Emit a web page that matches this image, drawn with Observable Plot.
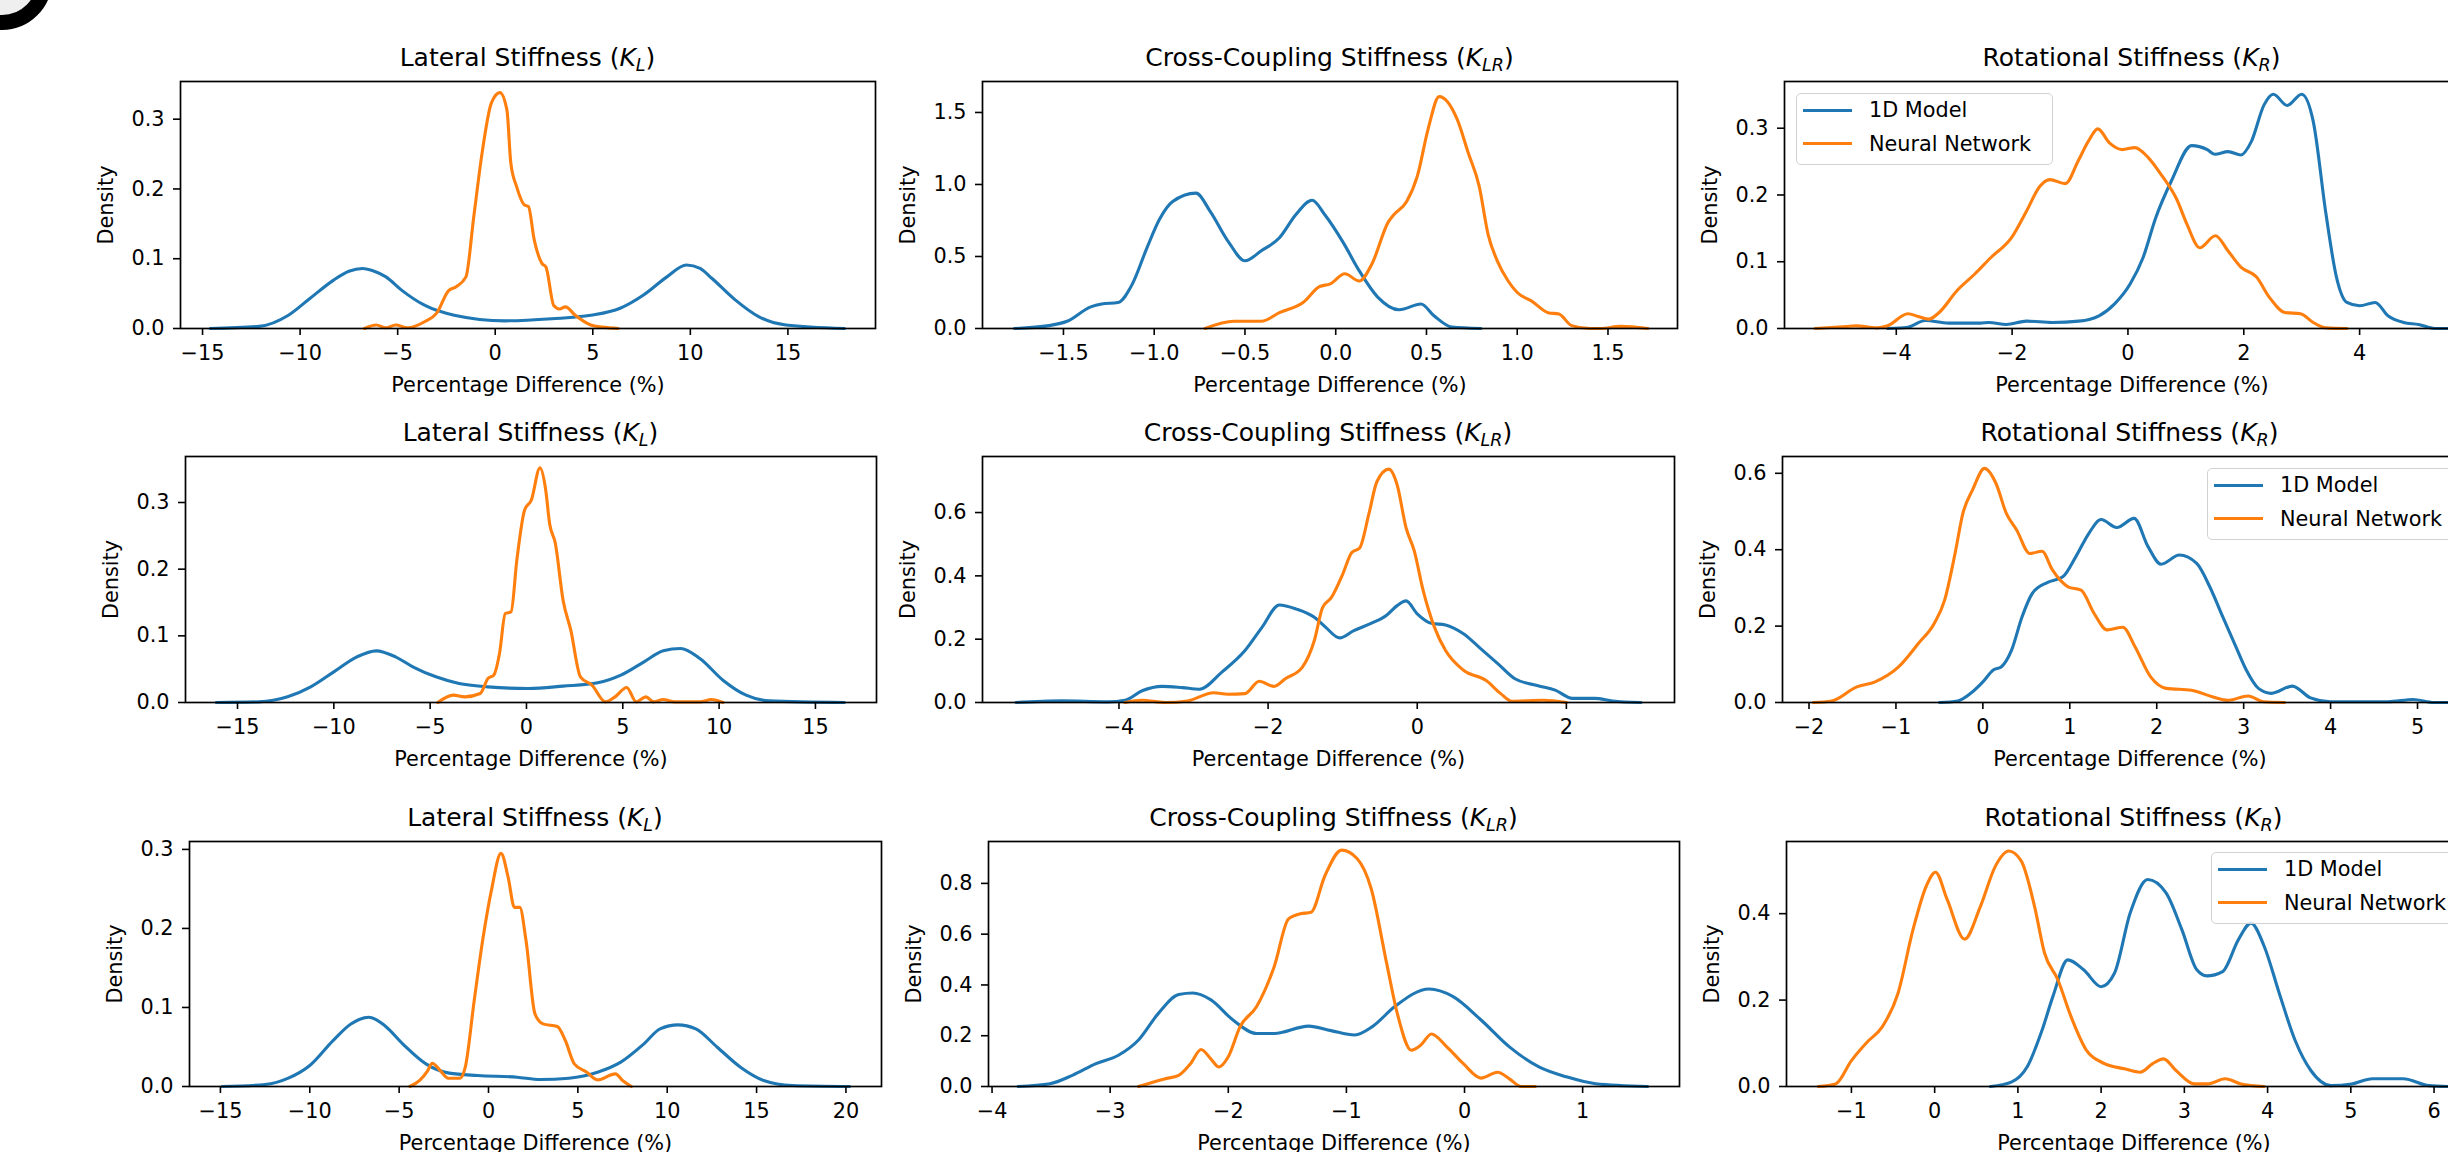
<!DOCTYPE html>
<html>
<head>
<meta charset="utf-8">
<script src="https://cdn.jsdelivr.net/npm/d3@7"></script>
<script src="https://cdn.jsdelivr.net/npm/@observablehq/plot@0.6"></script>
<style>
  html, body { margin: 0; padding: 0; background: #fff; }
  #fig { position: relative; width: 2448px; height: 1152px; overflow: hidden; background: #fff;
         font-family: "DejaVu Sans", sans-serif; color: #000; }
  .panel { position: absolute; }
  .panel svg { max-width: none !important; display: block; }
  .title { position: absolute; text-align: center; font-size: 25px; line-height: 25px; white-space: nowrap; color: #000; }
  .title sub { font-size: 70%; vertical-align: baseline; position: relative; top: 0.28em; line-height: 0; }
  .legend { position: absolute; box-sizing: border-box; background: rgba(255,255,255,0.8);
            border: 1.5px solid #d2d2d2; border-radius: 5px; font-size: 20.8px; }
  .legend .sw { position: absolute; height: 3px; }
  .legend .lt { position: absolute; line-height: 20.8px; white-space: nowrap; color: #000; }
  #corner { position: absolute; left: -48px; top: -70px; width: 100px; height: 100px; box-sizing: border-box;
            border-radius: 50%; border: 15px solid #000; background: #efefef; }
</style>
</head>
<body>
<div id="fig"><div id="corner"></div></div>
<script>
// ---------------- DATA ----------------
const seriesNames = ["1D Model", "Neural Network"];
const seriesColors = ["#1f77b4", "#ff7f0e"];
const xLabel = "Percentage Difference (%)";
const yLabel = "Density";

// Row 1
const r1LatModel = [[-14.6,0],[-12.1,0.003],[-10.6,0.019],[-9.5,0.043],[-8.3,0.069],[-7.5,0.082],[-6.8,0.086],[-6.2,0.082],[-5.6,0.074],[-4.8,0.055],[-3.6,0.033],[-2.1,0.019],[0.5,0.011],[2.9,0.014],[4.9,0.019],[6.4,0.029],[7.6,0.048],[8.8,0.074],[9.8,0.091],[10.5,0.086],[11.1,0.072],[12.3,0.041],[13.5,0.017],[14.9,0.005],[17.9,0]];
const r1LatNN = [[-6.7,0],[-6.1,0.005],[-5.6,0.001],[-5.1,0.005],[-4.5,0.001],[-3.6,0.01],[-3.0,0.022],[-2.4,0.054],[-2.0,0.06],[-1.5,0.074],[-1.1,0.16],[-0.65,0.256],[-0.2,0.323],[0.24,0.338],[0.6,0.313],[0.8,0.237],[1.1,0.203],[1.5,0.177],[1.7,0.175],[2.0,0.127],[2.4,0.093],[2.6,0.088],[3.0,0.033],[3.3,0.028],[3.6,0.031],[4.1,0.019],[4.9,0.005],[5.5,0.002],[6.3,0]];
const r1CCModel = [[-1.77,0],[-1.58,0.02],[-1.48,0.05],[-1.35,0.15],[-1.29,0.17],[-1.2,0.18],[-1.12,0.31],[-1.04,0.56],[-0.97,0.76],[-0.9,0.88],[-0.77,0.94],[-0.69,0.81],[-0.59,0.6],[-0.5,0.47],[-0.41,0.54],[-0.31,0.63],[-0.22,0.79],[-0.13,0.89],[-0.06,0.79],[0.04,0.6],[0.13,0.4],[0.23,0.22],[0.35,0.13],[0.47,0.17],[0.54,0.09],[0.64,0.01],[0.8,0]];
const r1CCNN = [[-0.72,0],[-0.56,0.05],[-0.41,0.05],[-0.31,0.11],[-0.18,0.18],[-0.09,0.29],[-0.03,0.31],[0.05,0.38],[0.13,0.33],[0.2,0.45],[0.29,0.74],[0.32,0.79],[0.39,0.88],[0.45,1.06],[0.51,1.39],[0.57,1.61],[0.67,1.45],[0.73,1.22],[0.79,0.99],[0.84,0.65],[0.89,0.47],[0.95,0.33],[1.0,0.25],[1.08,0.19],[1.17,0.11],[1.23,0.10],[1.3,0.02],[1.4,0],[1.46,0],[1.57,0.015],[1.72,0]];
const r1RotModel = [[-4.15,0],[-3.8,0.002],[-3.5,0.012],[-3.1,0.008],[-2.55,0.008],[-2.4,0.009],[-2.1,0.006],[-1.75,0.011],[-1.3,0.009],[-0.85,0.011],[-0.5,0.019],[-0.23,0.037],[0.04,0.067],[0.26,0.106],[0.48,0.166],[0.75,0.221],[1.1,0.274],[1.37,0.268],[1.5,0.261],[1.73,0.265],[1.95,0.26],[2.13,0.28],[2.35,0.335],[2.51,0.351],[2.75,0.334],[3.0,0.351],[3.2,0.31],[3.42,0.171],[3.6,0.077],[3.78,0.039],[4.0,0.034],[4.27,0.039],[4.49,0.019],[4.76,0.009],[5.02,0.006],[5.3,0],[5.9,0]];
const r1RotNN = [[-5.4,0],[-4.86,0.003],[-4.7,0.004],[-4.33,0.001],[-4.15,0.004],[-3.8,0.022],[-3.62,0.018],[-3.44,0.014],[-3.26,0.024],[-2.95,0.057],[-2.64,0.082],[-2.37,0.106],[-2.01,0.136],[-1.75,0.176],[-1.52,0.213],[-1.35,0.223],[-1.08,0.217],[-0.86,0.251],[-0.68,0.281],[-0.52,0.299],[-0.32,0.278],[-0.1,0.268],[0.12,0.271],[0.35,0.256],[0.57,0.231],[0.84,0.194],[1.02,0.156],[1.24,0.121],[1.51,0.139],[1.73,0.116],[1.95,0.092],[2.22,0.077],[2.44,0.047],[2.71,0.024],[2.98,0.022],[3.2,0.009],[3.42,0.001],[3.78,0]];

// Row 2
const r2LatModel = [[-16.1,0],[-13.9,0.001],[-12.4,0.0085],[-11.2,0.0235],[-10.0,0.046],[-8.8,0.0685],[-7.8,0.0775],[-6.8,0.0685],[-5.9,0.0535],[-4.7,0.0385],[-3.5,0.0285],[-2.0,0.0235],[0.1,0.021],[1.9,0.0245],[3.7,0.0295],[4.9,0.041],[6.1,0.061],[7.1,0.0775],[8.0,0.081],[9.0,0.066],[10.2,0.0335],[11.4,0.011],[12.6,0.0025],[16.5,0]];
const r2LatNN = [[-4.6,0],[-3.8,0.011],[-3.2,0.0085],[-2.4,0.0135],[-2.0,0.036],[-1.7,0.041],[-1.4,0.0735],[-1.1,0.1335],[-0.8,0.136],[-0.5,0.2135],[-0.1,0.2885],[0.25,0.3035],[0.7,0.352],[1.0,0.3185],[1.2,0.2685],[1.5,0.2385],[1.9,0.1535],[2.3,0.1085],[2.8,0.0385],[3.4,0.026],[4.1,0.001],[4.6,0.0085],[5.2,0.0225],[5.7,0.001],[6.2,0.0085],[6.6,0.001],[7.1,0.0045],[7.7,0.001],[9.0,0.001],[9.6,0.0045],[10.2,0]];
const r2CCModel = [[-5.38,0],[-4.77,0.005],[-4.15,0.002],[-3.92,0.007],[-3.69,0.037],[-3.42,0.051],[-3.15,0.047],[-2.92,0.042],[-2.62,0.096],[-2.31,0.164],[-2.08,0.238],[-1.85,0.308],[-1.62,0.295],[-1.38,0.269],[-1.23,0.238],[-1.04,0.204],[-0.85,0.227],[-0.62,0.25],[-0.42,0.274],[-0.27,0.306],[-0.15,0.321],[0.0,0.28],[0.19,0.25],[0.38,0.245],[0.62,0.217],[0.85,0.17],[1.08,0.123],[1.31,0.075],[1.62,0.053],[1.85,0.039],[2.08,0.013],[2.38,0.013],[2.62,0.005],[3.0,0]];
const r2CCNN = [[-3.92,0],[-3.69,0.007],[-3.38,0],[-3.08,0.005],[-2.73,0.031],[-2.54,0.026],[-2.31,0.028],[-2.12,0.067],[-1.92,0.051],[-1.77,0.075],[-1.54,0.112],[-1.38,0.196],[-1.27,0.3],[-1.15,0.332],[-1.0,0.405],[-0.88,0.473],[-0.77,0.489],[-0.65,0.594],[-0.54,0.698],[-0.38,0.737],[-0.27,0.688],[-0.15,0.552],[-0.04,0.479],[0.08,0.353],[0.23,0.238],[0.38,0.164],[0.62,0.102],[0.92,0.07],[1.12,0.028],[1.27,0.004],[1.69,0.007],[2.0,0]];
const r2RotModel = [[-0.5,0],[-0.29,0.004],[-0.14,0.024],[0.0,0.054],[0.12,0.085],[0.21,0.093],[0.33,0.137],[0.45,0.224],[0.57,0.286],[0.74,0.314],[0.92,0.329],[1.07,0.382],[1.22,0.443],[1.36,0.479],[1.54,0.458],[1.74,0.482],[1.9,0.408],[2.05,0.362],[2.26,0.386],[2.46,0.364],[2.61,0.303],[2.76,0.224],[2.91,0.146],[3.03,0.085],[3.17,0.037],[3.32,0.024],[3.56,0.043],[3.77,0.012],[4.0,0.002],[4.66,0.002],[4.95,0.008],[5.19,0],[5.35,0]];
const r2RotNN = [[-1.95,0],[-1.74,0.004],[-1.45,0.041],[-1.24,0.054],[-0.97,0.093],[-0.74,0.155],[-0.56,0.207],[-0.44,0.268],[-0.32,0.39],[-0.23,0.495],[-0.12,0.556],[0.02,0.613],[0.15,0.574],[0.27,0.495],[0.39,0.451],[0.54,0.39],[0.68,0.396],[0.8,0.347],[0.98,0.303],[1.13,0.294],[1.28,0.233],[1.43,0.19],[1.61,0.197],[1.75,0.146],[1.93,0.067],[2.11,0.037],[2.4,0.032],[2.64,0.015],[2.82,0.006],[3.05,0.017],[3.23,0.002],[3.47,0]];

// Row 3
const r3LatModel = [[-14.9,0],[-12.5,0.0025],[-11.2,0.0105],[-10.0,0.0265],[-8.7,0.058],[-7.7,0.079],[-6.7,0.0877],[-5.8,0.077],[-4.8,0.054],[-3.5,0.0287],[-2.2,0.0169],[-0.6,0.0139],[1.6,0.0118],[2.9,0.0088],[4.5,0.0105],[6.1,0.018],[7.4,0.0308],[8.7,0.054],[9.6,0.0729],[10.6,0.078],[11.6,0.0729],[12.8,0.0497],[14.1,0.0244],[15.4,0.0076],[17.0,0.0013],[20.2,0]];
const r3LatNN = [[-4.4,0],[-3.85,0.0076],[-3.4,0.0202],[-3.15,0.0295],[-2.7,0.0202],[-2.25,0.0105],[-1.6,0.0105],[-1.3,0.0244],[-0.8,0.1087],[-0.3,0.1888],[0.16,0.2478],[0.7,0.295],[1.1,0.2646],[1.45,0.2267],[1.75,0.2267],[2.1,0.1846],[2.6,0.0919],[3.05,0.0792],[3.85,0.0759],[4.3,0.0582],[4.8,0.0287],[5.5,0.0181],[6.1,0.0084],[7.1,0.016],[7.5,0.0076],[8.0,0]];
const r3CCModel = [[-3.78,0],[-3.51,0.011],[-3.32,0.044],[-3.12,0.09],[-2.93,0.123],[-2.76,0.183],[-2.59,0.289],[-2.42,0.362],[-2.3,0.368],[-2.15,0.342],[-1.96,0.262],[-1.76,0.209],[-1.61,0.209],[-1.32,0.238],[-1.13,0.22],[-0.93,0.203],[-0.78,0.236],[-0.59,0.315],[-0.3,0.384],[-0.1,0.355],[0.14,0.262],[0.38,0.156],[0.63,0.077],[0.87,0.037],[1.11,0.011],[1.55,0]];
const r3CCNN = [[-2.76,0],[-2.54,0.03],[-2.42,0.044],[-2.32,0.09],[-2.23,0.146],[-2.15,0.11],[-2.08,0.077],[-2.0,0.117],[-1.9,0.236],[-1.76,0.315],[-1.61,0.474],[-1.49,0.66],[-1.39,0.68],[-1.3,0.686],[-1.18,0.832],[-1.04,0.931],[-0.91,0.898],[-0.79,0.779],[-0.66,0.487],[-0.57,0.289],[-0.45,0.143],[-0.37,0.163],[-0.28,0.207],[-0.15,0.156],[-0.01,0.09],[0.14,0.033],[0.28,0.056],[0.38,0.03],[0.48,0],[0.6,0]];
const r3RotModel = [[0.67,0],[0.92,0.01],[1.11,0.045],[1.29,0.13],[1.42,0.208],[1.6,0.293],[1.79,0.27],[2.0,0.231],[2.16,0.262],[2.35,0.402],[2.56,0.479],[2.78,0.448],[2.97,0.363],[3.15,0.27],[3.27,0.256],[3.46,0.266],[3.65,0.34],[3.8,0.378],[3.96,0.324],[4.14,0.216],[4.33,0.107],[4.52,0.037],[4.76,0.002],[5.01,0.006],[5.26,0.018],[5.63,0.018],[5.94,0.002],[6.2,0]];
const r3RotNN = [[-1.4,0],[-1.19,0.006],[-1.0,0.06],[-0.81,0.103],[-0.63,0.138],[-0.44,0.216],[-0.26,0.363],[-0.1,0.464],[0.01,0.496],[0.15,0.433],[0.36,0.341],[0.55,0.417],[0.73,0.51],[0.89,0.545],[1.04,0.522],[1.2,0.417],[1.32,0.309],[1.48,0.247],[1.64,0.161],[1.82,0.085],[2.04,0.053],[2.28,0.041],[2.47,0.033],[2.62,0.053],[2.75,0.064],[2.9,0.037],[3.12,0.006],[3.28,0.006],[3.49,0.018],[3.68,0.006],[3.96,0]];

// Tick values
const ticksLat15 = [-15,-10,-5,0,5,10,15];
const ticksLat20 = [-15,-10,-5,0,5,10,15,20];
const ticksCC1 = [-1.5,-1.0,-0.5,0,0.5,1.0,1.5];
const ticksRot1 = [-4,-2,0,2,4];
const ticksCC2 = [-4,-2,0,2];
const ticksRot2 = [-2,-1,0,1,2,3,4,5];
const ticksCC3 = [-4,-3,-2,-1,0,1];
const ticksRot3 = [-1,0,1,2,3,4,5,6];
const yTicks03 = [0,0.1,0.2,0.3];
const yTicks15 = [0,0.5,1.0,1.5];
const yTicks06 = [0,0.2,0.4,0.6];
const yTicks08 = [0,0.2,0.4,0.6,0.8];
const yTicks04 = [0,0.2,0.4];

// ---------------- LAYOUT / SCALES ----------------
const titles = {
  lat: 'Lateral Stiffness (<i>K</i><sub><i>L</i></sub>)',
  cc: 'Cross-Coupling Stiffness (<i>K</i><sub><i>LR</i></sub>)',
  rot: 'Rotational Stiffness (<i>K</i><sub><i>R</i></sub>)'
};
// frame: [left, right, top, bottom] in page pixels
const panels = [
  {kind:"lat", frame:[180,875,81,328],  model:r1LatModel, nn:r1LatNN, xd:[-16.13,19.49], ymax:0.354, xt:ticksLat15, yt:yTicks03, xf:"d",   yf:".1f"},
  {kind:"cc",  frame:[982,1677,81,328], model:r1CCModel,  nn:r1CCNN,  xd:[-1.946,1.883], ymax:1.715, xt:ticksCC1,   yt:yTicks15, xf:".1f", yf:".1f"},
  {kind:"rot", frame:[1784,2479,81,328],model:r1RotModel, nn:r1RotNN, xd:[-5.93,6.07],   ymax:0.370, xt:ticksRot1,  yt:yTicks03, xf:"d",   yf:".1f", legend:[1796,93]},
  {kind:"lat", frame:[185,876,456,702], model:r2LatModel, nn:r2LatNN, xd:[-17.7,18.17],  ymax:0.369, xt:ticksLat15, yt:yTicks03, xf:"d",   yf:".1f"},
  {kind:"cc",  frame:[982,1674,456,702],model:r2CCModel,  nn:r2CCNN,  xd:[-5.83,3.45],   ymax:0.777, xt:ticksCC2,   yt:yTicks06, xf:"d",   yf:".1f"},
  {kind:"rot", frame:[1782,2477,456,702],model:r2RotModel,nn:r2RotNN, xd:[-2.305,5.69], ymax:0.644, xt:ticksRot2,  yt:yTicks06, xf:"d",   yf:".1f", legend:[2207,468]},
  {kind:"lat", frame:[189,881,841,1086],model:r3LatModel, nn:r3LatNN, xd:[-16.73,21.99], ymax:0.310, xt:ticksLat20, yt:yTicks03, xf:"d",   yf:".1f"},
  {kind:"cc",  frame:[988,1679,841,1086],model:r3CCModel, nn:r3CCNN,  xd:[-4.03,1.82],   ymax:0.965, xt:ticksCC3,   yt:yTicks08, xf:"d",   yf:".1f"},
  {kind:"rot", frame:[1786,2481,841,1086],model:r3RotModel,nn:r3RotNN,xd:[-1.78,6.57],   ymax:0.567, xt:ticksRot3,  yt:yTicks04, xf:"d",   yf:".1f", legend:[2211,852]}
];

const ML = 100, MR = 10, MT = 10, MB = 75;
const fig = document.getElementById("fig");

for (const p of panels) {
  const [fl, fr, ft, fb] = p.frame;
  const fw = fr - fl, fh = fb - ft;
  const chart = Plot.plot({
    width: ML + fw + MR,
    height: MT + fh + MB,
    marginLeft: ML, marginRight: MR, marginTop: MT, marginBottom: MB,
    x: {domain: p.xd},
    y: {domain: [0, p.ymax]},
    style: {fontFamily: "DejaVu Sans, sans-serif", fontSize: "20.8px", color: "#000", background: "none", overflow: "visible", maxWidth: "none"},
    marks: [
      Plot.line(p.model, {x: d => d[0], y: d => d[1], stroke: seriesColors[0], strokeWidth: 3.1, curve: "monotone-x"}),
      Plot.line(p.nn, {x: d => d[0], y: d => d[1], stroke: seriesColors[1], strokeWidth: 3.1, curve: "monotone-x"}),
      Plot.frame({stroke: "#000", strokeWidth: 1.7}),
      Plot.axisX({ticks: p.xt, tickFormat: d3.format(p.xf), tickSize: 7, tickPadding: 10, strokeWidth: 1.6,
                  label: xLabel, labelAnchor: "center", labelArrow: "none", labelOffset: 63}),
      Plot.axisY({ticks: p.yt, tickFormat: d3.format(p.yf), tickSize: 7, tickPadding: 9, strokeWidth: 1.6,
                  label: yLabel, labelAnchor: "center", labelArrow: "none", labelOffset: 82})
    ]
  });
  const wrap = document.createElement("div");
  wrap.className = "panel";
  wrap.style.left = (fl - ML) + "px";
  wrap.style.top = (ft - MT) + "px";
  wrap.style.width = (ML + fw + MR) + "px";
  wrap.style.height = (MT + fh + MB) + "px";
  wrap.appendChild(chart);
  fig.appendChild(wrap);

  const t = document.createElement("div");
  t.className = "title";
  t.innerHTML = titles[p.kind];
  t.style.left = fl + "px";
  t.style.width = fw + "px";
  t.style.top = (ft - 15 - 21) + "px";
  fig.appendChild(t);

  if (p.legend) {
    const [lx, ly] = p.legend;
    const lg = document.createElement("div");
    lg.className = "legend";
    lg.style.left = lx + "px";
    lg.style.top = ly + "px";
    lg.style.width = "257px";
    lg.style.height = "72px";
    seriesNames.forEach((name, i) => {
      const cy = 17.5 + i * 33.5;
      const sw = document.createElement("div");
      sw.className = "sw";
      sw.style.background = seriesColors[i];
      sw.style.left = "6px";
      sw.style.width = "49px";
      sw.style.top = (cy - 1.5 - 1.5) + "px";
      lg.appendChild(sw);
      const lt = document.createElement("div");
      lt.className = "lt";
      lt.textContent = name;
      lt.style.left = "72px";
      lt.style.top = (cy - 10 - 1.5) + "px";
      lg.appendChild(lt);
    });
    fig.appendChild(lg);
  }
}
</script>
</body>
</html>
